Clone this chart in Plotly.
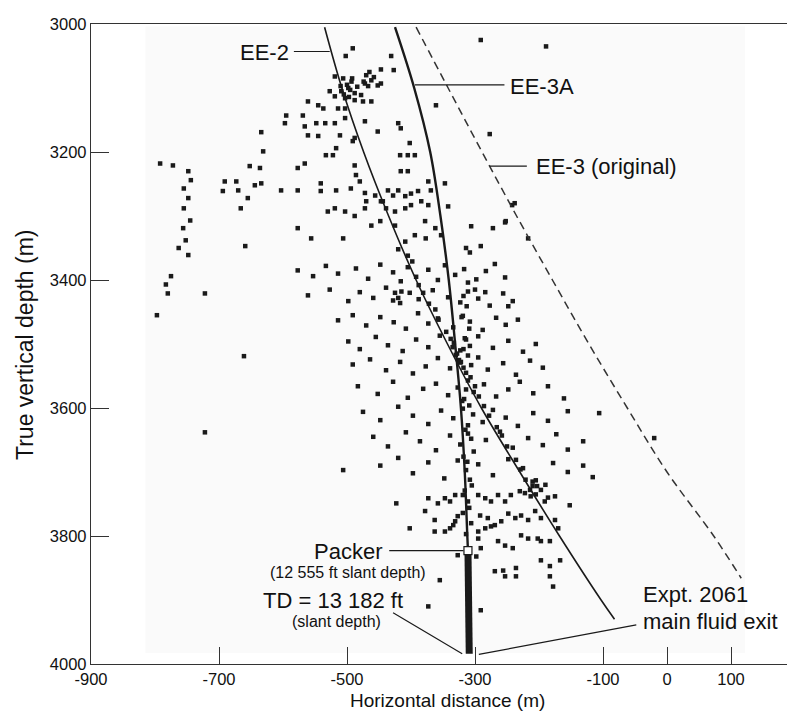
import plotly.graph_objects as go

# well trajectories: horizontal distance (m) vs true vertical depth (m)
ee2_x = [-535, -508, -474, -435, -392, -343, -290, -230, -168, -103, -82]
ee2_z = [3005, 3100, 3200, 3300, 3400, 3500, 3600, 3700, 3800, 3900, 3930]

ee3a_x = [-425, -395, -370, -354, -341, -331, -322, -316, -312, -311]
ee3a_z = [3005, 3100, 3200, 3300, 3400, 3500, 3600, 3700, 3800, 3823]

ee3_x = [-392, -342, -289, -235, -179, -122, -62, 0, 73, 116]
ee3_z = [3005, 3100, 3200, 3300, 3400, 3500, 3600, 3700, 3800, 3866]

# packer and bottom of the open hole (EE-3A)
packer = (-311, 3823)
td = (-309, 3984)

# axis ticks (plain hyphen minus like the original)
x_ticks = [-900, -700, -500, -300, -100, 0, 100]
x_ticktext = ["-900", "-700", "-500", "-300", "-100", "0", "100"]
y_ticks = [3000, 3200, 3400, 3600, 3800, 4000]

# microseismic events, upper part of the cloud
up_x = [-491, -502, -431, -447, -427, -291, -189, -361, -277, -519, -506, -492,
        -472, -462, -452, -561, -545, -537, -527, -519, -509, -503, -498, -514,
        -503, -488, -475, -462, -447, -467, -478, -595, -597, -569, -566, -548,
        -534, -519, -561, -545, -511, -634, -631, -503, -488, -472, -452, -420,
        -416, -402, -417, -405, -394, -491, -522, -533, -517, -566, -577, -652,
        -636, -603, -577, -541, -517, -541, -691, -673, -670, -694, -655, -666,
        -644, -634, -488, -486, -480, -494, -472, -456, -470, -447, -436, -428,
        -416, -405, -420, -409, -400, -389, -373, -369, -347, -342, -444, -439,
        -425, -409, -400, -384, -373, -306, -272, -252, -238, -217, -503, -488,
        -472, -462, -448, -425, -409, -394, -378, -362, -377, -353, -314, -291,
        -577, -556, -506, -659, -530, -519, -242, -253, -308, -311, -300, -284,
        -248, -500, -495, -488, -505, -497, -484, -510, -493, -470, -465, -458,
        -474]
up_z = [3038, 3050, 3050, 3071, 3072, 3025, 3035, 3127, 3172, 3082, 3085, 3085,
        3093, 3088, 3096, 3121, 3127, 3132, 3105, 3113, 3105, 3116, 3100, 3132,
        3132, 3119, 3121, 3121, 3093, 3097, 3111, 3143, 3155, 3143, 3160, 3155,
        3155, 3155, 3174, 3175, 3174, 3169, 3199, 3147, 3178, 3152, 3168, 3155,
        3163, 3186, 3205, 3205, 3205, 3183, 3205, 3205, 3194, 3218, 3225, 3222,
        3225, 3260, 3260, 3249, 3260, 3261, 3246, 3246, 3260, 3261, 3272, 3288,
        3252, 3249, 3221, 3236, 3246, 3257, 3264, 3268, 3277, 3277, 3260, 3268,
        3230, 3230, 3260, 3269, 3265, 3261, 3246, 3260, 3249, 3285, 3277, 3288,
        3293, 3288, 3283, 3277, 3283, 3316, 3319, 3308, 3280, 3335, 3293, 3300,
        3288, 3315, 3308, 3315, 3340, 3330, 3308, 3319, 3335, 3330, 3350, 3347,
        3319, 3335, 3335, 3347, 3293, 3288, 3283, 3310, 3357, 3404, 3415, 3419,
        3441, 3095, 3103, 3108, 3110, 3114, 3098, 3097, 3090, 3080, 3075, 3083,
        3090]

# far-left and isolated events
far_x = [-792, -772, -748, -744, -755, -748, -755, -745, -756, -752, -763, -748,
         -775, -783, -780, -797, -722, -661, -722, -506, -106, -20]
far_z = [3218, 3221, 3230, 3244, 3257, 3272, 3288, 3307, 3319, 3338, 3350, 3361,
         3394, 3407, 3421, 3455, 3421, 3519, 3638, 3697, 3608, 3647]

# middle part of the cloud
mid_x = [-577, -553, -533, -514, -486, -467, -448, -428, -416, -405, -392, -373,
         -358, -347, -331, -317, -298, -283, -269, -253,
         -561, -527, -498, -480, -459, -439, -417, -402, -388, -366, -342, -323,
         -311, -295, -277, -256, -241,
         -514, -491, -470, -448, -427, -408, -389, -373, -358, -334, -319, -308,
         -288, -267, -252, -233,
         -498, -480, -455, -436, -413, -392, -373, -355, -333, -323, -314, -308,
         -295, -272, -248, -225, -205,
         -491, -464, -439, -417, -397, -377, -358, -339, -323, -314, -306, -295,
         -280, -256, -236, -214, -194,
         -483, -452, -428, -405, -381, -361, -342, -327, -317, -311, -302, -286,
         -267, -248, -230, -209, -186, -161,
         -475, -448, -420, -397, -373, -353, -334, -319, -311, -303, -288, -272,
         -252, -233, -209, -186, -155,
         -459, -436, -408, -386, -361, -339, -323, -311, -302, -283, -261, -241,
         -217, -194, -173, -155, -131,
         -448, -420, -397, -373, -348, -327, -314, -308, -295, -272, -248, -225,
         -205, -178, -155, -131, -116]
mid_z = [3385, 3394, 3378, 3390, 3382, 3398, 3376, 3388, 3402, 3380, 3395, 3384,
         3400, 3377, 3392, 3383, 3399, 3386, 3375, 3396,
         3424, 3415, 3433, 3419, 3428, 3412, 3436, 3420, 3430, 3416, 3427, 3435,
         3418, 3429, 3440, 3421, 3433,
         3463, 3455, 3471, 3458, 3466, 3476, 3452, 3468, 3460, 3474, 3456, 3465,
         3478, 3459, 3470, 3462,
         3496, 3508, 3489, 3502, 3511, 3493, 3505, 3487, 3498, 3510, 3493, 3503,
         3488, 3506, 3495, 3512, 3500,
         3532, 3524, 3541, 3528, 3546, 3535, 3522, 3538, 3529, 3545, 3533, 3521,
         3540, 3530, 3548, 3526, 3537,
         3566, 3578, 3559, 3584, 3570, 3562, 3580, 3568, 3586, 3557, 3575, 3563,
         3582, 3571, 3559, 3577, 3566, 3585,
         3606, 3619, 3598, 3612, 3625, 3604, 3616, 3601, 3627, 3610, 3622, 3603,
         3615, 3628, 3608, 3620, 3605,
         3645, 3660, 3638, 3652, 3666, 3643, 3657, 3640, 3668, 3650, 3637, 3662,
         3647, 3658, 3641, 3665, 3652,
         3690, 3678, 3702, 3685, 3710, 3682, 3697, 3712, 3688, 3705, 3680, 3694,
         3713, 3686, 3700, 3690, 3708]

# dense streaks and clumps along EE-3A and EE-2
streak_x = [-318, -313, -321, -309, -316, -311, -318, -307, -314, -320, -309, -315,
            -306, -318, -312, -305, -316, -309, -319, -306, -314,
            -420, -405, -398, -388, -381, -372, -362, -357, -345, -338, -330, -322,
            -300, -294, -286, -278, -266, -258, -250, -236, -229, -221, -210,
            -425, -420, -415, -428, -335, -328, -325, -318,
            -210, -203, -197, -190, -205, -186, -214]
streak_z = [3425, 3441, 3458, 3476, 3491, 3518, 3537, 3552, 3571, 3589, 3596, 3634,
            3648, 3676, 3684, 3721, 3729, 3756, 3764, 3780, 3797,
            3352, 3362, 3371, 3408, 3420, 3437, 3446, 3462, 3481, 3492, 3517, 3528,
            3566, 3582, 3597, 3612, 3630, 3643, 3660, 3681, 3696, 3712, 3722,
            3420, 3428, 3418, 3432, 3505, 3515, 3525, 3508,
            3715, 3722, 3728, 3720, 3735, 3740, 3728]

# lower part of the cloud
low_x = [-423, -373, -358, -347, -339, -331, -319, -311, -295, -284, -275, -264,
         -253, -244, -230, -222, -213, -191, -175, -152, -378, -363, -331, -327,
         -292, -280, -269, -259, -248, -237, -228, -217, -206, -197, -175, -402,
         -363, -347, -339, -334, -295, -284, -275, -264, -253, -241, -228, -217,
         -202, -197, -183, -170, -295, -291, -327, -298, -269, -256, -253, -236,
         -236, -197, -183, -167, -183, -178, -355, -291, -373]
low_z = [3749, 3741, 3749, 3741, 3746, 3736, 3736, 3746, 3736, 3741, 3746, 3736,
         3746, 3736, 3730, 3733, 3738, 3746, 3738, 3752, 3761, 3775, 3777, 3769,
         3768, 3772, 3783, 3777, 3765, 3772, 3768, 3775, 3761, 3772, 3775, 3788,
         3793, 3793, 3788, 3783, 3793, 3788, 3785, 3808, 3815, 3819, 3799, 3804,
         3804, 3808, 3808, 3788, 3804, 3819, 3830, 3832, 3855, 3854, 3863, 3850,
         3863, 3838, 3847, 3838, 3863, 3879, 3869, 3916, 3910]

ev_x = up_x + far_x + mid_x + streak_x + low_x
ev_z = up_z + far_z + mid_z + streak_z + low_z

ink = "#1a1a1a"
fig = go.Figure()

fig.add_trace(go.Scatter(x=ev_x, y=ev_z, mode="markers",
                         marker=dict(symbol="square", size=4.5, color=ink, line_width=0),
                         hoverinfo="skip"))
fig.add_trace(go.Scatter(x=ee2_x, y=ee2_z, mode="lines",
                         line=dict(color=ink, width=1.6, shape="spline")))
fig.add_trace(go.Scatter(x=ee3a_x, y=ee3a_z, mode="lines",
                         line=dict(color=ink, width=2.4, shape="spline")))
fig.add_trace(go.Scatter(x=ee3_x, y=ee3_z, mode="lines",
                         line=dict(color="#333", width=1.5, dash="8px,5px", shape="spline")))
# open hole below the packer
fig.add_trace(go.Scatter(x=[packer[0], td[0]], y=[packer[1], td[1]], mode="lines",
                         line=dict(color=ink, width=7)))
fig.add_trace(go.Scatter(x=[packer[0]], y=[packer[1]], mode="markers",
                         marker=dict(symbol="square", size=8, color="white",
                                     line=dict(color=ink, width=1.2))))

# faint scanned-image background
fig.add_shape(type="rect", x0=-815, x1=122, y0=3004, y1=3983, layer="below",
              line_width=0, fillcolor="#fafafa")

big = dict(family="Arial", size=22, color="#111")
small = dict(family="Arial", size=16, color="#111")


def label(x, y, text, font, anchor="center"):
    fig.add_annotation(x=x, y=y, text=text, showarrow=False, font=font,
                       xanchor=anchor, yanchor="middle")


def leader(x0, y0, x1, y1):
    fig.add_shape(type="line", x0=x0, y0=y0, x1=x1, y1=y1,
                  line=dict(color=ink, width=1.2))


label(-588, 3044, "EE-2", big, "right")
leader(-583, 3043, -527, 3043)
label(-248, 3097, "EE-3A", big, "left")
leader(-394, 3095, -254, 3095)
label(-208, 3222, "EE-3 (original)", big, "left")
leader(-277, 3222, -219, 3222)
label(-498, 3824, "Packer", big)
label(-498, 3857, "(12 555 ft slant depth)", small)
leader(-434, 3823, -318, 3823)
label(-522, 3900, "TD = 13 182 ft", big)
label(-517, 3933, "(slant depth)", small)
leader(-428, 3920, -320, 3984)
label(-40, 3892, "Expt. 2061", big, "left")
label(-40, 3934, "main fluid exit", big, "left")
leader(-294, 3985, -48, 3939)

axis_font = dict(family="Arial", size=16.5, color="#111")
fig.update_xaxes(range=[-900, 212.5], tickvals=x_ticks, ticktext=x_ticktext,
                 ticks="inside", ticklen=17, tickwidth=1.3, tickcolor="#333",
                 showline=True, linecolor="#333", linewidth=1.3, mirror=True,
                 showgrid=False, zeroline=False, tickfont=axis_font)
fig.update_yaxes(range=[4000, 3000], tickvals=y_ticks,
                 ticks="inside", ticklen=18, tickwidth=1.3, tickcolor="#333",
                 showline=True, linecolor="#333", linewidth=1.3,
                 showgrid=False, zeroline=False, tickfont=axis_font)

fig.add_annotation(xref="paper", yref="paper", x=0.5, y=-0.057, text="Horizontal distance (m)",
                   showarrow=False, font=dict(family="Arial", size=19, color="#111"),
                   yanchor="middle")
fig.add_annotation(xref="paper", yref="paper", x=-0.0927, y=0.5, text="True vertical depth (m)",
                   showarrow=False, textangle=-90, font=dict(family="Arial", size=23, color="#111"),
                   xanchor="center")

fig.update_layout(width=795, height=711, margin=dict(l=83, r=0, t=16, b=55),
                  plot_bgcolor="white", paper_bgcolor="white", showlegend=False)

fig.write_html("out.html")
